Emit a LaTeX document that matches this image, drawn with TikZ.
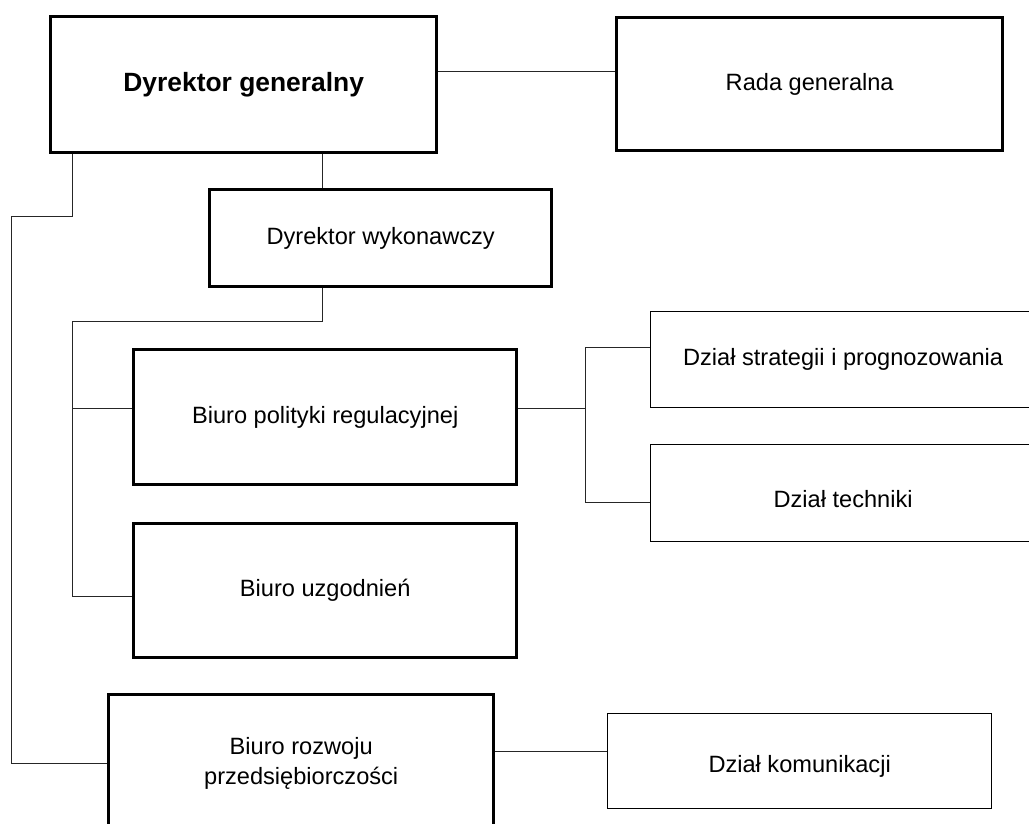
\documentclass[tikz,border=0pt]{standalone}
\usepackage{fontspec}
\setmainfont{Liberation Sans}
\usetikzlibrary{calc}
\begin{document}
\begin{tikzpicture}[x=1pt,y=-1pt,
  box/.style={draw, rectangle, inner sep=0pt, anchor=north west, align=center,
              font=\fontsize{23.6}{30}\selectfont},
  major/.style={box, line width=3.4pt},
  minor/.style={box, line width=1.3pt},
  link/.style={line width=1pt, draw=black!85}]
\useasboundingbox (0,0) rectangle (1029,824);
\clip (0,0) rectangle (1029,824);

% units
\node[major, minimum width=386pt, minimum height=136pt,
      font=\bfseries\fontsize{26.4}{32}\selectfont] (dg) at (49,15) {Dyrektor generalny};
\node[major, minimum width=386pt, minimum height=133pt] (rg) at (615,16) {Rada generalna};
\node[major, minimum width=342pt, minimum height=97pt] (dw) at (208,188) {Dyrektor wykonawczy};
\node[major, minimum width=383pt, minimum height=135pt] (bpr) at (132,348) {Biuro polityki regulacyjnej};
\node[major, minimum width=383pt, minimum height=134pt] (bu) at (132,522) {Biuro uzgodnień};
\node[major, minimum width=385pt, minimum height=137pt] (brp) at (107,693) {Biuro rozwoju\\przedsiębiorczości};
\node[minor, minimum width=385pt, minimum height=96pt] (dsp) at (650,311) {Dział strategii i prognozowania};
\node[minor, minimum width=385pt, minimum height=97pt] (dt) at (650,444)
  {\raisebox{-6pt}[\height][\depth]{Dział techniki}};
\node[minor, minimum width=384pt, minimum height=95pt] (dk) at (607,713)
  {\raisebox{-5pt}[\height][\depth]{Dział komunikacji}};

% routing points of the connectors
\coordinate (yA) at (0,72);
\coordinate (xB) at (322,0);
\coordinate (k1) at (72,217);
\coordinate (k2) at (11,217);
\coordinate (yC) at (0,763);
\coordinate (k3) at (322,321);
\coordinate (k4) at (72,321);
\coordinate (yD) at (0,596);
\coordinate (yE) at (0,408);
\coordinate (k5) at (585,347);
\coordinate (k6) at (585,502);
\coordinate (yF) at (0,751);

% connectors
\draw[link] (dg.east |- yA) -- (rg.west |- yA);
\draw[link] (dg.south -| xB) -- (dw.north -| xB);
\draw[link] (dg.south -| k1) -- (k1) -- (k2) |- (brp.west |- yC);
\draw[link] (dw.south -| k3) -- (k3) -- (k4) |- (bu.west |- yD);
\draw[link] (k4 |- yE) -- (bpr.west |- yE);
\draw[link] (bpr.east |- yE) -- (k5 |- yE);
\draw[link] (dsp.west |- k5) -- (k5) -- (k6) -- (dt.west |- k6);
\draw[link] (brp.east |- yF) -- (dk.west |- yF);
\end{tikzpicture}
\end{document}
